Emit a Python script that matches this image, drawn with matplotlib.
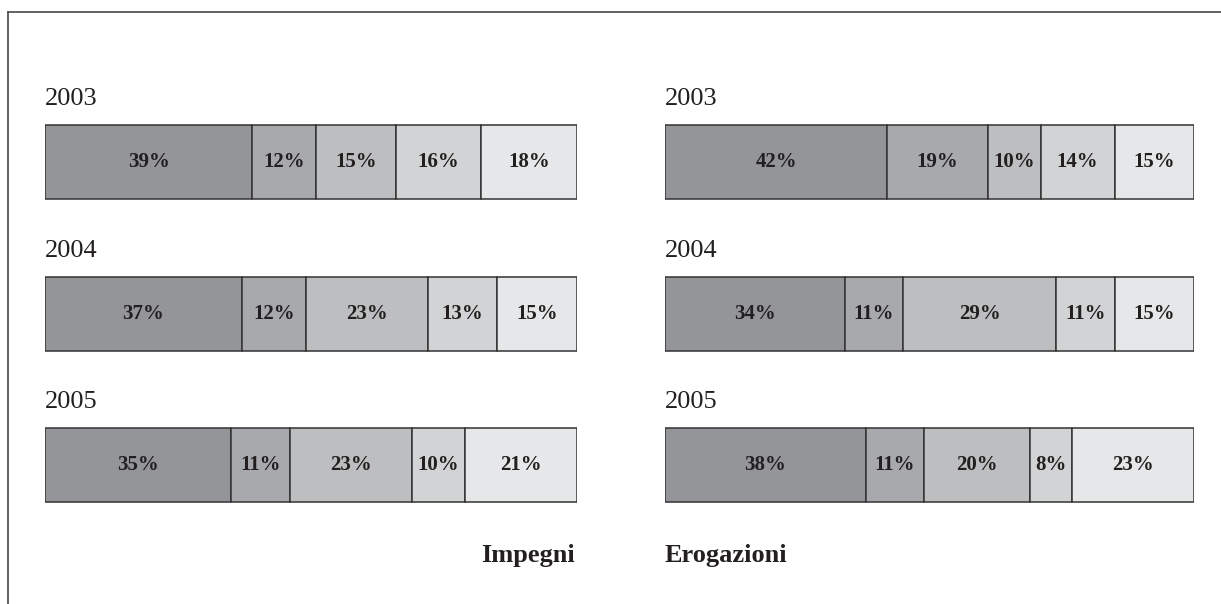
import matplotlib.pyplot as plt
from matplotlib.lines import Line2D

plt.rcParams["font.family"] = ["Liberation Serif", "DejaVu Serif"]

years = ["2003", "2004", "2005"]
impegni = [
    [39, 12, 15, 16, 18],
    [37, 12, 23, 13, 15],
    [35, 11, 23, 10, 21],
]
erogazioni = [
    [42, 19, 10, 14, 15],
    [34, 11, 29, 11, 15],
    [38, 11, 20, 8, 23],
]
panel_titles = ["Impegni", "Erogazioni"]

shades = ["#939598", "#a7a9ac", "#bcbec0", "#d1d3d4", "#e6e7e8"]
edge = "#333333"
ink = "#231f20"

W, H = 1221, 604
fig = plt.figure(figsize=(W / 100, H / 100), dpi=100)

# row centres are 151.5 px apart, first at y=162 px
row_gap = 151.5
top_px = 162 - row_gap / 2
bot_px = 162 + row_gap * 2.5
ax_bottom = 1 - bot_px / H
ax_height = (bot_px - top_px) / H


def draw_panel(ax, rows):
    for i, shares in enumerate(rows):
        left = 0
        for j, v in enumerate(shares):
            ax.barh(i, v, left=left, height=74 / row_gap, color=shades[j],
                    edgecolor=edge, linewidth=1.1)
            ax.text(left + v / 2, i, f"{v}%", ha="center", va="center",
                    fontsize=15, fontweight="bold", color=ink)
            left += v
        ax.text(0, i - 0.375, years[i], ha="left", va="baseline",
                fontsize=19, color=ink)
    ax.set_xlim(0, 100)
    ax.set_ylim(2.5, -0.5)
    ax.axis("off")


ax_l = fig.add_axes([45 / W, ax_bottom, 532 / W, ax_height])
ax_r = fig.add_axes([665 / W, ax_bottom, 529 / W, ax_height])
draw_panel(ax_l, impegni)
draw_panel(ax_r, erogazioni)

fig.text(575 / W, 1 - 562 / H, panel_titles[0], ha="right", va="baseline",
         fontsize=19, fontweight="bold", color=ink)
fig.text(665 / W, 1 - 562 / H, panel_titles[1], ha="left", va="baseline",
         fontsize=19, fontweight="bold", color=ink)

# open frame: top and left rules
frame_kw = dict(color="#555555", linewidth=1.3, transform=fig.transFigure)
fig.add_artist(Line2D([8 / W, 1], [1 - 12 / H, 1 - 12 / H], **frame_kw))
fig.add_artist(Line2D([8 / W, 8 / W], [1 - 12 / H, 0], **frame_kw))

fig.savefig("out.png", dpi=100, facecolor="white")
